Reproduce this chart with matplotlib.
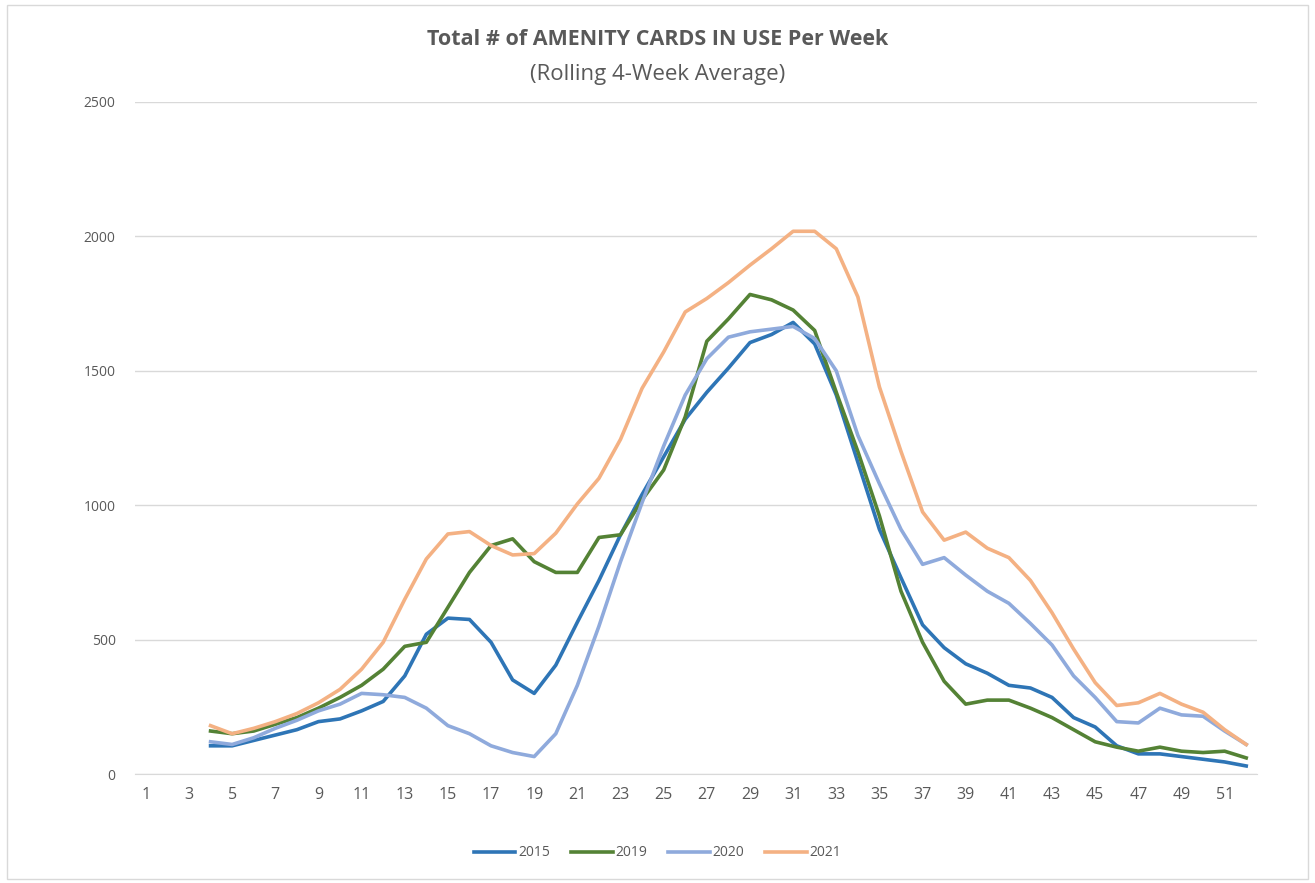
import numpy as np
import matplotlib.pyplot as plt
from matplotlib.patches import Rectangle

plt.rcParams['font.family'] = ['Open Sans', 'DejaVu Sans']

weeks = list(range(4, 53))
y2015 = [105, 105, 125, 145, 165, 195, 205, 235, 270, 365, 520, 580, 575, 490, 350, 300,
         405, 565, 720, 890, 1040, 1180, 1320, 1420, 1510, 1605, 1635, 1680, 1600, 1410,
         1160, 910, 730, 555, 470, 410, 375, 330, 320, 285, 210, 175, 105, 75, 75, 65, 55,
         45, 30]
y2019 = [160, 150, 160, 185, 210, 245, 285, 330, 390, 475, 490, 620, 750, 850, 875, 790,
         750, 750, 880, 890, 1020, 1131, 1329, 1610, 1693, 1784, 1764, 1726, 1650, 1420,
         1200, 960, 680, 490, 345, 260, 275, 275, 245, 210, 165, 120, 100, 85, 100, 85, 80,
         85, 60]
y2020 = [120, 110, 135, 170, 200, 235, 260, 300, 295, 285, 245, 180, 150, 105, 80, 65,
         150, 330, 550, 790, 1010, 1220, 1410, 1545, 1625, 1645, 1655, 1665, 1620, 1500,
         1260, 1080, 910, 780, 805, 740, 680, 635, 560, 480, 365, 285, 195, 190, 245, 220,
         215, 160, 110]
y2021 = [180, 150, 170, 195, 225, 265, 315, 390, 490, 650, 800, 893, 902, 850, 815, 820,
         896, 1005, 1100, 1245, 1435, 1570, 1719, 1769, 1828, 1893, 1954, 2019, 2019, 1954,
         1775, 1440, 1200, 975, 870, 900, 840, 805, 720, 600, 465, 340, 255, 265, 300, 260,
         230, 165, 110]

series = [('2015', y2015, '#2E75B6'), ('2019', y2019, '#548235'),
          ('2020', y2020, '#8FAADC'), ('2021', y2021, '#F4B183')]

fig = plt.figure(figsize=(13.15, 8.83), dpi=100)
ax = fig.add_axes([0.1027, 0.1234, 0.8532, 0.7611])

for name, vals, col in series:
    ax.plot(weeks, vals, color=col, lw=2.6, label=name, solid_joinstyle='round')

ax.set_xlim(0.5, 52.5)
ax.set_ylim(0, 2500)
ax.set_yticks(range(0, 2501, 500))
ax.set_xticks(range(1, 52, 2))
ax.grid(axis='y', color='#D9D9D9', lw=1)
ax.set_axisbelow(True)
for s in ['top', 'right', 'left']:
    ax.spines[s].set_visible(False)
ax.spines['bottom'].set_color('#D9D9D9')
ax.tick_params(axis='both', length=0, colors='#595959')
ax.tick_params(axis='y', labelsize=10, pad=14)
ax.tick_params(axis='x', labelsize=11.5, pad=9)

fig.text(0.5, 0.955, 'Total # of AMENITY CARDS IN USE Per Week', ha='center', va='center',
         fontsize=15.5, fontweight='bold', color='#595959')
fig.text(0.5, 0.916, '(Rolling 4-Week Average)', ha='center', va='center',
         fontsize=16, color='#595959')

leg = fig.legend(loc='center', bbox_to_anchor=(0.5, 0.034), ncol=4, frameon=False,
                 fontsize=10, handlelength=3, handletextpad=0.2, columnspacing=1.5,
                 labelcolor='#595959')

fig.patches.append(Rectangle((0.005, 0.004), 0.99, 0.99, transform=fig.transFigure,
                             fill=False, edgecolor='#D9D9D9', lw=1))

fig.savefig('out.png', dpi=100)
